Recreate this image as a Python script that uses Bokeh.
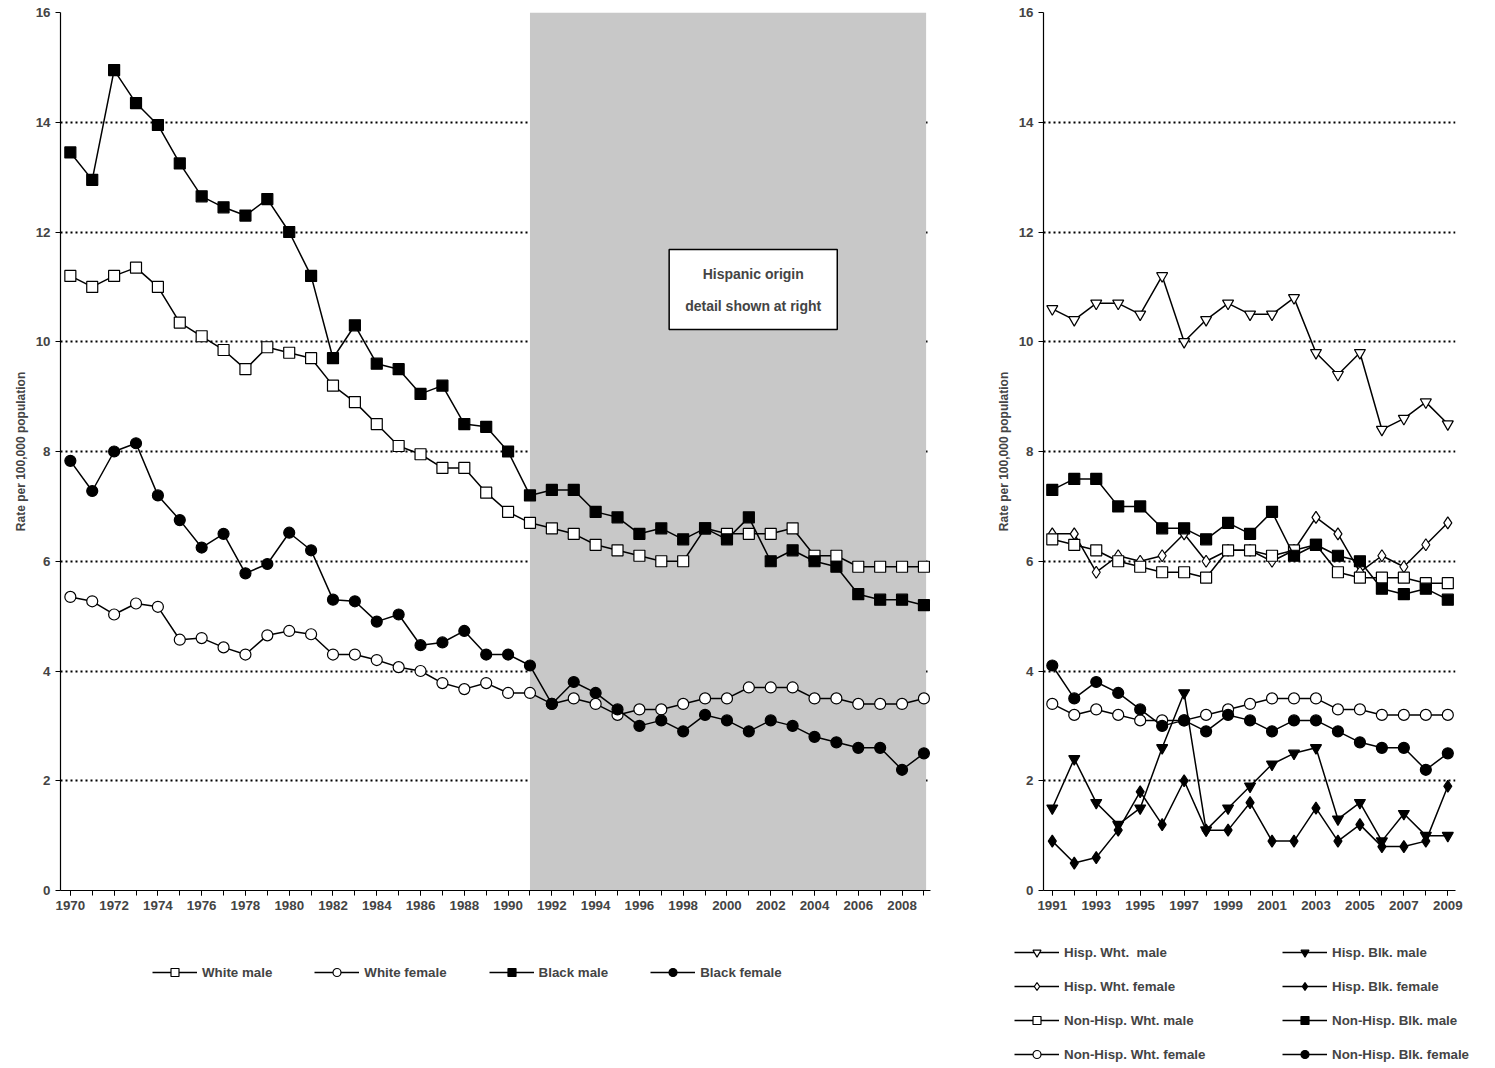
from bokeh.plotting import figure
from bokeh.models import BoxAnnotation, Label, Legend, LegendItem, FixedTicker
from bokeh.layouts import row, column
from bokeh.embed import file_html
from bokeh.resources import INLINE

years_l = list(range(1970, 2010))
white_male = [11.2,11.0,11.2,11.35,11.0,10.35,10.1,9.85,9.5,9.9,9.8,9.7,9.2,8.9,8.5,8.1,7.95,7.7,7.7,7.25,6.9,6.7,6.6,6.5,6.3,6.2,6.1,6.0,6.0,6.6,6.5,6.5,6.5,6.6,6.1,6.1,5.9,5.9,5.9,5.9]
black_male = [13.45,12.95,14.95,14.35,13.95,13.25,12.65,12.45,12.3,12.6,12.0,11.2,9.7,10.3,9.6,9.5,9.05,9.2,8.5,8.45,8.0,7.2,7.3,7.3,6.9,6.8,6.5,6.6,6.4,6.6,6.4,6.8,6.0,6.2,6.0,5.9,5.4,5.3,5.3,5.2]
white_female = [5.35,5.27,5.03,5.23,5.17,4.57,4.6,4.43,4.3,4.65,4.73,4.67,4.3,4.3,4.2,4.07,4.0,3.78,3.67,3.78,3.6,3.6,3.4,3.5,3.4,3.2,3.3,3.3,3.4,3.5,3.5,3.7,3.7,3.7,3.5,3.5,3.4,3.4,3.4,3.5]
black_female = [7.83,7.28,8.0,8.15,7.2,6.75,6.25,6.5,5.78,5.95,6.52,6.2,5.3,5.27,4.9,5.03,4.47,4.52,4.73,4.3,4.3,4.1,3.4,3.8,3.6,3.3,3.0,3.1,2.9,3.2,3.1,2.9,3.1,3.0,2.8,2.7,2.6,2.6,2.2,2.5]

years_r = list(range(1991, 2010))
hisp_wht_male = [10.6,10.4,10.7,10.7,10.5,11.2,10.0,10.4,10.7,10.5,10.5,10.8,9.8,9.4,9.8,8.4,8.6,8.9,8.5]
hisp_wht_female = [6.5,6.5,5.8,6.1,6.0,6.1,6.5,6.0,6.2,6.2,6.0,6.2,6.8,6.5,5.8,6.1,5.9,6.3,6.7]
nh_wht_male = [6.4,6.3,6.2,6.0,5.9,5.8,5.8,5.7,6.2,6.2,6.1,6.2,6.3,5.8,5.7,5.7,5.7,5.6,5.6]
nh_wht_female = [3.4,3.2,3.3,3.2,3.1,3.1,3.1,3.2,3.3,3.4,3.5,3.5,3.5,3.3,3.3,3.2,3.2,3.2,3.2]
hisp_blk_male = [1.5,2.4,1.6,1.2,1.5,2.6,3.6,1.1,1.5,1.9,2.3,2.5,2.6,1.3,1.6,0.9,1.4,1.0,1.0]
hisp_blk_female = [0.9,0.5,0.6,1.1,1.8,1.2,2.0,1.1,1.1,1.6,0.9,0.9,1.5,0.9,1.2,0.8,0.8,0.9,1.9]
nh_blk_male = [7.3,7.5,7.5,7.0,7.0,6.6,6.6,6.4,6.7,6.5,6.9,6.1,6.3,6.1,6.0,5.5,5.4,5.5,5.3]
nh_blk_female = [4.1,3.5,3.8,3.6,3.3,3.0,3.1,2.9,3.2,3.1,2.9,3.1,3.1,2.9,2.7,2.6,2.6,2.2,2.5]

legend_left = ["White male", "White female", "Black male", "Black female"]
legend_right = ["Hisp. Wht.  male", "Hisp. Wht. female", "Non-Hisp. Wht. male", "Non-Hisp. Wht. female",
                "Hisp. Blk. male", "Hisp. Blk. female", "Non-Hisp. Blk. male", "Non-Hisp. Blk. female"]

FONT = "Liberation Sans"
NAN = float("nan")

def style(p, major, minor):
    p.ygrid.grid_line_color = "black"
    p.ygrid.grid_line_dash = "2 3"
    p.ygrid.grid_line_width = 2
    p.xgrid.grid_line_color = None
    p.outline_line_color = None
    p.yaxis.ticker = FixedTicker(ticks=list(range(0, 17, 2)))
    p.xaxis.ticker = FixedTicker(ticks=major, minor_ticks=minor)
    for ax in (p.xaxis, p.yaxis):
        ax.major_label_text_font = FONT
        ax.major_label_text_font_style = "bold"
        ax.major_label_text_font_size = "10pt"
        ax.axis_label_text_font = FONT
        ax.axis_label_text_font_style = "bold"
        ax.axis_label_text_font_size = "9pt"
        ax.major_tick_in = 0
        ax.major_tick_out = 5
        ax.minor_tick_in = 0
        ax.minor_tick_out = 5
        ax.axis_line_width = 1.2
    p.yaxis.axis_label = "Rate per 100,000 population"
    p.yaxis.minor_tick_line_color = None

def series(p, x, y, marker, filled, size=11):
    p.line(x, y, color="black", line_width=1.5)
    p.scatter(x, y, marker=marker, size=size, line_color="black", line_width=1.2,
              fill_color="black" if filled else "white")

def make_items(f, labels, markers, fills):
    items = []
    for lab, m, fl in zip(labels, markers, fills):
        ln = f.line([NAN], [NAN], color="black", line_width=1.5)
        sc = f.scatter([NAN], [NAN], marker=m, size=12 if m == "diamond" else 11, line_color="black",
                       line_width=1.2, fill_color="black" if fl else "white")
        items.append(LegendItem(label=lab, renderers=[ln, sc]))
    return items

def add_legend(f, items, loc, orientation, spacing):
    lg = Legend(items=items, orientation=orientation, border_line_color=None, background_fill_alpha=0,
                label_text_font=FONT, label_text_font_style="bold", label_text_font_size="10pt",
                glyph_width=45, glyph_height=20, label_height=20, spacing=spacing, location=loc,
                margin=0, padding=0)
    f.add_layout(lg)

def blank(width, height):
    f = figure(width=width, height=height, x_range=(0, 1), y_range=(0, 1), output_backend="svg",
               toolbar_location=None, min_border=0, x_axis_location=None, y_axis_location=None)
    f.grid.visible = False
    f.outline_line_color = None
    return f

pl = figure(frame_width=870, frame_height=878, x_range=(1969.55, 2009.3), y_range=(0, 16),
            output_backend="svg", toolbar_location=None,
            min_border_left=60, min_border_right=10, min_border_top=12, min_border_bottom=40)
style(pl, list(range(1970, 2009, 2)), years_l)
pl.add_layout(BoxAnnotation(left=1991, right=2009.1, fill_color="#c8c8c8", fill_alpha=1, line_color=None, level="underlay"))
series(pl, years_l, white_male, "square", False)
series(pl, years_l, white_female, "circle", False)
series(pl, years_l, black_male, "square", True)
series(pl, years_l, black_female, "circle", True)
pl.add_layout(Label(x=2001.2, y=10.95, text="Hispanic origin\ndetail shown at right", text_align="center",
                    text_baseline="middle", text_font=FONT, text_font_style="bold", text_font_size="10.5pt",
                    border_line_color="black", border_line_width=1.5, background_fill_color="white",
                    padding=16, text_line_height=2.0))

pr = figure(frame_width=412, frame_height=878, x_range=(1990.6, 2009.35), y_range=(0, 16),
            output_backend="svg", toolbar_location=None,
            min_border_left=103, min_border_right=30, min_border_top=12, min_border_bottom=40)
style(pr, list(range(1991, 2010, 2)), years_r)
rm = ["inverted_triangle", "diamond", "square", "circle"] * 2
rf = [False] * 4 + [True] * 4
for yv, m, fl in zip([hisp_wht_male, hisp_wht_female, nh_wht_male, nh_wht_female,
                      hisp_blk_male, hisp_blk_female, nh_blk_male, nh_blk_female], rm, rf):
    series(pr, years_r, yv, m, fl, 12 if m == "diamond" else 11)

legL = blank(940, 135)
add_legend(legL, make_items(legL, legend_left, ["square", "circle", "square", "circle"], [False, False, True, True]),
           (152, 83), "horizontal", 42)

legR = blank(545, 135)
itemsR = make_items(legR, legend_right, rm, rf)
add_legend(legR, itemsR[:4], (74, 1), "vertical", 14)
add_legend(legR, itemsR[4:], (342, 1), "vertical", 14)

layout = column(row(pl, pr, spacing=0), row(legL, legR, spacing=0), spacing=0)
open("out.html", "w").write(file_html(layout, INLINE))
